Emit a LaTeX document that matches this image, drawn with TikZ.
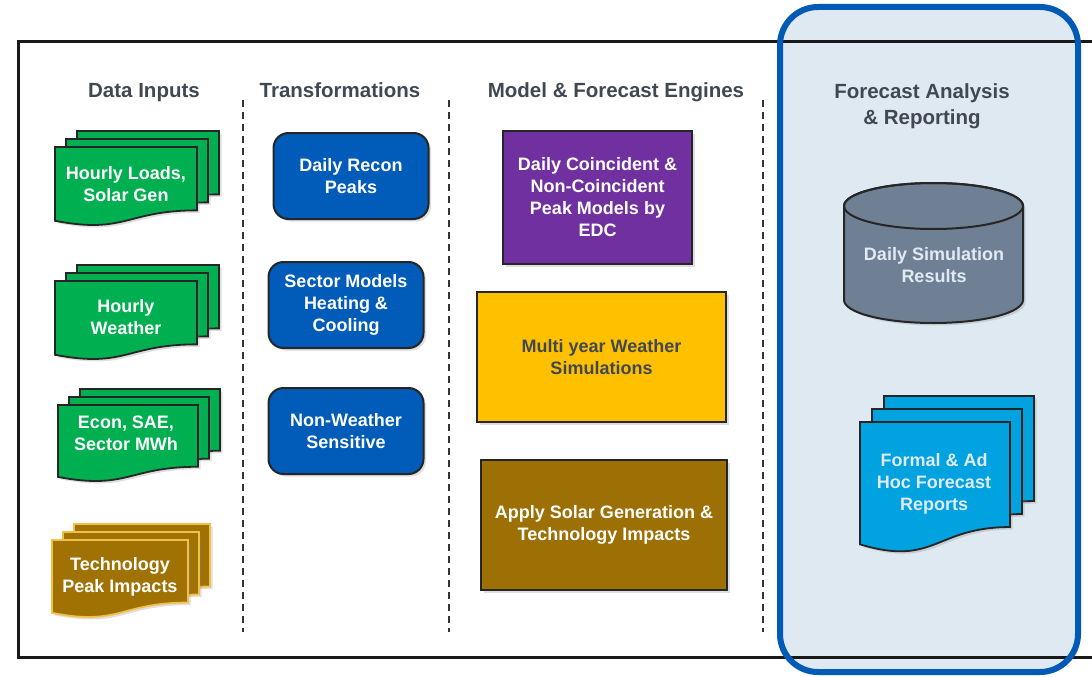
\documentclass[tikz,border=0pt]{standalone}
\usepackage{fontspec}
\setmainfont{Liberation Sans}
\usepackage{xcolor}
\definecolor{inkgray}{RGB}{64,72,84}
\definecolor{datagreen}{RGB}{0,176,80}
\definecolor{techgold}{RGB}{160,114,4}
\definecolor{techedge}{RGB}{242,192,72}
\definecolor{reconblue}{RGB}{0,92,184}
\definecolor{peakpurple}{RGB}{112,48,160}
\definecolor{simyellow}{RGB}{255,192,0}
\definecolor{solarbrown}{RGB}{156,112,4}
\definecolor{dbslate}{RGB}{112,128,148}
\definecolor{reportcyan}{RGB}{0,162,224}
\definecolor{panelfill}{RGB}{222,233,241}
\definecolor{panelblue}{RGB}{0,90,182}
\definecolor{palelabel}{RGB}{224,234,244}
\usepackage{tikz}
\usetikzlibrary{
    shadows,
    backgrounds
}

% one page of a stacked document: style, left, top, width, height
\newcommand{\docpage}[5]{%
    \draw[#1] (#2,#3) -- (#2+#4,#3) -- (#2+#4,#3+0.802*#5)
        .. controls (#2+0.5*#4,#3+0.802*#5) and (#2+0.5*#4,#3+1.107*#5) .. (#2,#3+0.934*#5) -- cycle;%
}
% three pages, back to front: style, left, top, width, height, dx, dy
\newcommand{\docstack}[7]{%
    \docpage{#1}{#2+2*#6}{#3-2*#7}{#4}{#5}%
    \docpage{#1}{#2+#6}{#3-#7}{#4}{#5}%
    \docpage{#1}{#2}{#3}{#4}{#5}%
}

\begin{document}
\begin{tikzpicture}[
    x=1pt, y=-1pt,
    every text node part/.style={align=center},
    head/.style={font=\fontsize{20.5}{26}\selectfont\bfseries, text=inkgray, anchor=base},
    boxtext/.style={font=\fontsize{18}{22}\selectfont\bfseries, text=white},
    softshadow/.style={drop shadow={shadow xshift=2.5pt, shadow yshift=-2.5pt, opacity=0.25}},
    box/.style={draw=black!85, line width=2pt, boxtext, softshadow},
    bluebox/.style={box, fill=reconblue, rounded corners=15pt, minimum width=155, minimum height=86},
    doc/.style={draw=black!85, line width=1.8pt, softshadow},
    divider/.style={black!80, line width=1.4pt, dash pattern=on 7pt off 5pt}
]
\useasboundingbox (0,0) rectangle (1092,677);

% ==================== REPORTING PANEL + FRAME ====================
\fill[panelfill, rounded corners=38pt] (780,7) rectangle (1078,672);
\draw[black!90, line width=3pt] (1092,42) -- (18,42) -- (18,657) -- (1092,657);
\draw[panelblue, line width=6pt, rounded corners=38pt] (780,7) rectangle (1078,672);

\draw[divider] (243,100) -- (243,632);
\draw[divider] (449,100) -- (449,632);
\draw[divider] (763,100) -- (763,632);

% ==================== HEADERS ====================
\node[head] (hd_inputs) at (144,97) {Data Inputs};
\node[head] (hd_trans) at (340,97) {Transformations};
\node[head] (hd_models) at (616,97) {Model \& Forecast Engines};
\node[head] (hd_report) at (922,124) {Forecast Analysis\\\& Reporting};

% ==================== DATA INPUTS ====================
\docstack{doc, fill=datagreen}{55}{147}{142}{79}{11}{8}
\node[boxtext] (in_loads) at (126,184) {Hourly Loads,\\Solar Gen};

\docstack{doc, fill=datagreen}{55}{281}{142}{79}{11}{8}
\node[boxtext] (in_weather) at (126,317) {Hourly\\Weather};

\docstack{doc, fill=datagreen}{58}{405}{140}{77}{11}{8}
\node[boxtext] (in_econ) at (126,433) {Econ, SAE,\\Sector MWh};

\docstack{doc, fill=techgold, draw=techedge}{52}{540}{136}{78}{11}{8}
\node[boxtext] (in_tech) at (120,577) {Technology\\Peak Impacts};

% ==================== TRANSFORMATIONS ====================
\node[bluebox] (tr_recon) at (351,176) {Daily Recon\\Peaks};
\node[bluebox] (tr_sector) at (346,305) {Sector Models\\Heating \&\\Cooling};
\node[bluebox] (tr_nonwx) at (346,431) {Non-Weather\\Sensitive};

% ==================== MODEL & FORECAST ENGINES ====================
\node[box, fill=peakpurple, minimum width=189, minimum height=133] (mod_peaks) at (597.5,197.5) {Daily Coincident \&\\Non-Coincident\\Peak Models by\\EDC};
\node[box, fill=simyellow, text=inkgray, minimum width=249, minimum height=130] (mod_sims) at (601.5,357) {Multi year Weather\\Simulations};
\node[box, fill=solarbrown, minimum width=246, minimum height=130] (mod_solar) at (604,525) {Apply Solar Generation \&\\Technology Impacts};

% ==================== ANALYSIS & REPORTING ====================
\filldraw[fill=dbslate, draw=black!85, line width=2pt, softshadow] (844,206) -- (844,300)
    arc[start angle=180, end angle=360, x radius=89.5pt, y radius=23pt] -- (1023,206)
    arc[start angle=0, end angle=180, x radius=89.5pt, y radius=23pt] -- cycle;
\draw[black!85, line width=2pt] (933.5,206) ellipse [x radius=89.5pt, y radius=23pt];
\node[boxtext, text=palelabel] (rep_db) at (934,265) {Daily Simulation\\Results};

\docstack{doc, fill=reportcyan}{860}{422}{150}{131}{12}{13}
\node[boxtext, text=palelabel] (rep_docs) at (934,484) {Formal \& Ad\\Hoc Forecast\\Reports};

\end{tikzpicture}
\end{document}
